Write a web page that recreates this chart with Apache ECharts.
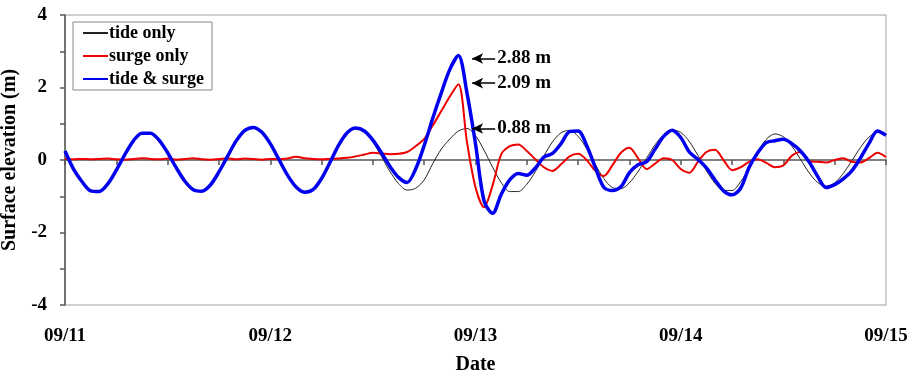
<!DOCTYPE html>
<html>
<head>
<meta charset="utf-8">
<script src="https://cdn.jsdelivr.net/npm/echarts@6/dist/echarts.min.js"></script>
<style>html,body{margin:0;padding:0;background:#fff}#c{width:912px;height:373px}</style>
</head>
<body>
<div id="c"></div>
<script>
// hours since 09/11 00:00
var hours = [];
for (var h = 0; h <= 96; h++) hours.push(h);
var dateLabels = ['09/11', '09/12', '09/13', '09/14', '09/15'];
var yTickLabels = ['-4', '-2', '0', '2', '4'];

var tideOnly = [
 0.25,-0.25,-0.6,-0.85,-0.87,-0.66,-0.28,0.15,0.53,0.74,
 0.74,0.55,0.2,-0.21,-0.58,-0.82,-0.86,-0.69,-0.33,0.1,
 0.52,0.81,0.9,0.77,0.45,0.02,-0.41,-0.74,-0.89,-0.82,
 -0.51,-0.06,0.41,0.75,0.88,0.78,0.5,0.1,-0.32,-0.65,
 -0.83,-0.78,-0.55,-0.1,0.3,0.58,0.8,0.87,0.67,0.27,
 -0.2,-0.62,-0.87,-0.87,-0.67,-0.32,0.11,0.5,0.75,0.82,
 0.65,0.31,-0.12,-0.51,-0.76,-0.79,-0.63,-0.32,0.05,0.42,
 0.7,0.83,0.76,0.51,0.13,-0.29,-0.64,-0.84,-0.84,-0.6,
 -0.21,0.23,0.57,0.72,0.64,0.38,0.02,-0.35,-0.62,-0.72,
 -0.63,-0.37,-0.02,0.34,0.63,0.76,0.7
];
var surgeOnly = [
 0.03,0.02,0.03,0.02,0.03,0.04,0.02,0.01,0.03,0.05,
 0.03,0.02,0.04,0.01,0.03,0.05,0.02,0.01,0.03,0.05,
 0.02,0.04,0.03,0.01,0.03,0.02,0.04,0.09,0.05,0.03,
 0.02,0.03,0.04,0.06,0.1,0.15,0.2,0.18,0.16,0.17,
 0.22,0.38,0.58,0.95,1.35,1.75,2.09,0.5,-0.75,-1.3,
 -0.7,0.15,0.38,0.43,0.25,0.02,-0.2,-0.3,-0.12,0.1,
 0.17,0.0,-0.3,-0.44,-0.15,0.2,0.34,0.05,-0.25,-0.1,
 0.05,0.0,-0.25,-0.35,-0.05,0.22,0.28,0.0,-0.28,-0.2,
 -0.05,0.02,-0.08,-0.2,-0.15,0.12,0.22,-0.03,-0.05,-0.07,
 0.0,0.05,-0.05,-0.07,0.05,0.2,0.08
];
var tideSurge = [
 0.25,-0.25,-0.6,-0.85,-0.87,-0.66,-0.28,0.15,0.53,0.74,
 0.74,0.55,0.2,-0.21,-0.58,-0.82,-0.86,-0.69,-0.33,0.1,
 0.52,0.81,0.9,0.77,0.45,0.02,-0.41,-0.74,-0.89,-0.82,
 -0.51,-0.06,0.41,0.75,0.88,0.8,0.55,0.2,-0.18,-0.48,
 -0.62,-0.25,0.4,1.15,1.85,2.5,2.88,1.85,0.45,-1.13,
 -1.47,-0.95,-0.55,-0.37,-0.42,-0.22,0.08,0.18,0.45,0.78,
 0.8,0.4,-0.2,-0.75,-0.84,-0.74,-0.35,-0.13,-0.05,0.3,
 0.65,0.82,0.62,0.22,0.02,-0.22,-0.55,-0.85,-0.96,-0.78,
 -0.2,0.2,0.48,0.53,0.57,0.45,0.25,-0.05,-0.45,-0.76,
 -0.68,-0.52,-0.3,0.05,0.45,0.8,0.68
];
// annotations: text and arrow level (m)
var annotText = ['2.88 m', '2.09 m', '0.88 m'];
var annotLevel = [2.8, 2.12, 0.87];
var annotFrom = 47.6, annotTo = 50.3;

function pairs(v) { return hours.map(function (h, i) { return [h, v[i]]; }); }

var FONT = 'Liberation Serif';
var chart = echarts.init(document.getElementById('c'), null, {renderer: 'canvas'});
chart.setOption({
  animation: false,
  backgroundColor: '#fff',
  grid: {left: 65, right: 26, top: 15, bottom: 68, show: true, borderColor: '#a0a0a0', borderWidth: 1,
         containLabel: false, outerBoundsMode: 'none'},
  legend: {
    orient: 'vertical', left: 73, top: 22,
    padding: [2, 8, 2, 9], itemGap: 5, itemWidth: 25, itemHeight: 18,
    borderColor: '#888', borderWidth: 1, backgroundColor: '#fff',
    itemStyle: {opacity: 0},
    textStyle: {fontFamily: FONT, fontWeight: 'bold', fontSize: 18, color: '#000', padding: [0, 0, 0, -4]},
    data: ['tide only', 'surge only', 'tide & surge']
  },
  xAxis: {
    type: 'value', min: 0, max: 96, interval: 6,
    name: 'Date', nameLocation: 'middle', nameGap: 50,
    nameTextStyle: {fontFamily: FONT, fontWeight: 'bold', fontSize: 20, color: '#000'},
    axisLine: {lineStyle: {color: '#555', width: 1.5}},
    axisTick: {length: 5, inside: false, lineStyle: {color: '#555', width: 1.5}},
    splitLine: {show: false},
    axisLabel: {
      margin: 22, fontFamily: FONT, fontWeight: 'bold', fontSize: 19, color: '#000',
      formatter: function (v) { return v % 24 === 0 ? dateLabels[v / 24] : ''; }
    }
  },
  yAxis: {
    type: 'value', min: -4, max: 4, interval: 1,
    name: 'Surface elevation (m)', nameLocation: 'middle', nameGap: 36, nameRotate: 90,
    nameTextStyle: {fontFamily: FONT, fontWeight: 'bold', fontSize: 20, color: '#000'},
    axisLine: {show: true, lineStyle: {color: '#555', width: 1.5}},
    axisTick: {show: true, length: 5, lineStyle: {color: '#555', width: 1.5}},
    splitLine: {show: false},
    axisLabel: {
      margin: 18, fontFamily: FONT, fontWeight: 'bold', fontSize: 19, color: '#000',
      formatter: function (v) { return v % 2 === 0 ? yTickLabels[(v + 4) / 2] : ''; }
    }
  },
  series: [
    {name: 'tide only', type: 'line', data: pairs(tideOnly), symbol: 'none', smooth: 0.3,
     lineStyle: {color: '#222', width: 1}, itemStyle: {color: '#222'}, z: 2},
    {name: 'surge only', type: 'line', data: pairs(surgeOnly), symbol: 'none', smooth: 0.3,
     lineStyle: {color: '#ee0000', width: 2}, itemStyle: {color: '#ee0000'}, z: 3},
    {name: 'tide & surge', type: 'line', data: pairs(tideSurge), symbol: 'none', smooth: 0.3,
     lineStyle: {color: '#0000ee', width: 3.5}, itemStyle: {color: '#0000ee'}, z: 4,
     markLine: {
       silent: true, symbol: ['arrow', 'none'], symbolSize: [8, 11],
       lineStyle: {color: '#000', width: 1.5, type: 'solid'},
       label: {show: true, position: 'end', distance: 2, fontFamily: FONT, fontWeight: 'bold', fontSize: 19, color: '#000'},
       data: annotText.map(function (t, i) {
         return [{coord: [annotFrom, annotLevel[i]], label: {formatter: t}}, {coord: [annotTo, annotLevel[i]]}];
       })
     }}
  ]
});
</script>
</body>
</html>
